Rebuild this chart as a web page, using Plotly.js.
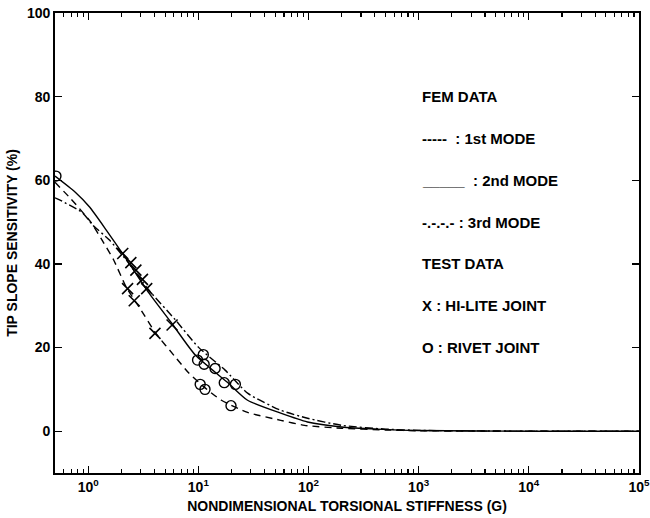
<!DOCTYPE html>
<html>
<head>
<meta charset="utf-8">
<script src="https://cdn.plot.ly/plotly-3.0.1.min.js"></script>
<style>
html,body{margin:0;padding:0;background:#fff;}
#chart{width:650px;height:518px;}
</style>
</head>
<body>
<div id="chart"></div>
<script>
// FEM curves
var mode1X = [0.5, 0.7, 1.0, 1.07, 1.35, 1.7, 2.22, 2.9, 4.12, 6.2, 8.2, 11.6, 16.2, 28, 56, 92, 200, 500, 1000, 10000, 100000];
var mode1Y = [59.5, 55.5, 50.8, 49.8, 45.5, 41.0, 34.4, 29.7, 23.4, 17.7, 13.9, 10.3, 7.4, 4.5, 2.6, 1.4, 0.7, 0.3, 0.1, 0, 0];

var mode2X = [0.5, 0.76, 1.03, 1.46, 2.04, 3.57, 5.74, 9.4, 18.7, 28, 56, 98, 200, 420, 1000, 10000, 100000];
var mode2Y = [61.0, 57.2, 53.6, 48.1, 42.6, 33.0, 25.8, 18.2, 11.5, 7.4, 4.3, 2.2, 1.0, 0.5, 0.15, 0, 0];

var mode3X = [0.5, 0.55, 0.89, 1.1, 1.56, 2.22, 3.57, 6.2, 10, 17.5, 28, 56, 98, 200, 500, 1000, 10000, 100000];
var mode3Y = [55.8, 55.3, 52.2, 49.3, 45.7, 40.9, 33.7, 26.6, 20.1, 14.6, 9.1, 5.0, 3.1, 1.4, 0.5, 0.2, 0, 0];

// Test data
var hiliteX = [2.06, 2.44, 2.71, 3.11, 3.4, 2.28, 2.62, 4.04, 5.78];
var hiliteY = [42.5, 40.3, 38.5, 36.3, 34.1, 34.1, 31.2, 23.4, 25.4];

var rivetX = [0.51, 11.1, 9.84, 11.3, 14.2, 17.2, 21.7, 10.4, 11.5, 19.8];
var rivetY = [61.0, 18.3, 17.0, 16.0, 15.0, 11.6, 11.2, 11.2, 10.0, 6.1];

// Tick labels
var xTickVals = [1, 10, 100, 1000, 10000, 100000];
var xTickText = ['10<sup>0</sup>', '10<sup>1</sup>', '10<sup>2</sup>', '10<sup>3</sup>', '10<sup>4</sup>', '10<sup>5</sup>'];
var yTickVals = [0, 20, 40, 60, 80, 100];

// Legend text lines
var legendLines = ['FEM DATA', '-----  : 1st MODE', '_____  : 2nd MODE', '-.-.-.- : 3rd MODE', 'TEST DATA', 'X : HI-LITE JOINT', 'O : RIVET JOINT'];
var legendLevels = [80, 70, 60, 50, 40, 30, 20];

var minorVals = [];
[0.1, 1, 10, 100, 1000, 10000].forEach(function(d){
  for (var k = 2; k <= 9; k++) minorVals.push(k * d);
});

var FONT = 'Liberation Sans, Arial, Helvetica, sans-serif';
var lineW = 1.4;
var xRange = [Math.log10(0.5), 5.0005];

var traces = [
  {x: mode1X, y: mode1Y, mode: 'lines', line: {color: '#000', width: lineW, dash: '7px,5px', shape: 'spline', smoothing: 0.6}, hoverinfo: 'skip'},
  {x: mode2X, y: mode2Y, mode: 'lines', line: {color: '#000', width: lineW, shape: 'spline', smoothing: 0.6}, hoverinfo: 'skip'},
  {x: mode3X, y: mode3Y, mode: 'lines', line: {color: '#000', width: lineW, dash: '8px,3px,2px,3px', shape: 'spline', smoothing: 0.6}, hoverinfo: 'skip'},
  {x: hiliteX, y: hiliteY, mode: 'markers', marker: {symbol: 'x-thin-open', size: 11, color: '#000', line: {color: '#000', width: 1.6}}},
  {x: rivetX, y: rivetY, mode: 'markers', marker: {symbol: 'circle-open', size: 10, color: '#000', line: {color: '#000', width: 1.4}}}
];

var annotations = legendLines.map(function(t, i){
  return {xref: 'paper', yref: 'y', x: (420 - 55) / 584, y: legendLevels[i], xanchor: 'left', yanchor: 'middle',
          text: t, showarrow: false, font: {family: FONT, size: 15, color: '#000', weight: 'bold'}};
});

var layout = {
  width: 650, height: 518,
  margin: {l: 55, r: 11, t: 13, b: 45, pad: 0},
  paper_bgcolor: '#fff', plot_bgcolor: '#fff',
  showlegend: false,
  font: {family: FONT, color: '#000', size: 14, weight: 'bold'},
  xaxis: {
    type: 'log', range: xRange,
    tickmode: 'array', tickvals: xTickVals, ticktext: xTickText,
    ticks: 'inside', ticklen: 7, tickwidth: 1.3, tickcolor: '#000',
    minor: {tickmode: 'array', tickvals: minorVals, ticks: 'inside', ticklen: 4, tickwidth: 1.2, tickcolor: '#000', showgrid: false},
    showline: true, linecolor: '#000', linewidth: 1.8, mirror: 'ticks',
    showgrid: false, zeroline: false, ticklabeloverflow: 'allow',
    tickfont: {family: FONT, size: 14, color: '#000', weight: 'bold'},
    title: {text: 'NONDIMENSIONAL TORSIONAL STIFFNESS (G)', font: {family: FONT, size: 14, color: '#000', weight: 'bold'}, standoff: 8},
    automargin: false
  },
  yaxis: {
    range: [-10, 100],
    tickmode: 'array', tickvals: yTickVals,
    ticks: 'inside', ticklen: 7, tickwidth: 1.3, tickcolor: '#000',
    showline: true, linecolor: '#000', linewidth: 1.8, mirror: 'ticks',
    showgrid: false, zeroline: false,
    tickfont: {family: FONT, size: 14, color: '#000', weight: 'bold'},
    title: {text: 'TIP SLOPE SENSITIVITY (%)', font: {family: FONT, size: 14, color: '#000', weight: 'bold'}, standoff: 6},
    automargin: false
  },
  annotations: annotations
};

Plotly.newPlot('chart', traces, layout, {staticPlot: true, displayModeBar: false});
</script>
</body>
</html>
